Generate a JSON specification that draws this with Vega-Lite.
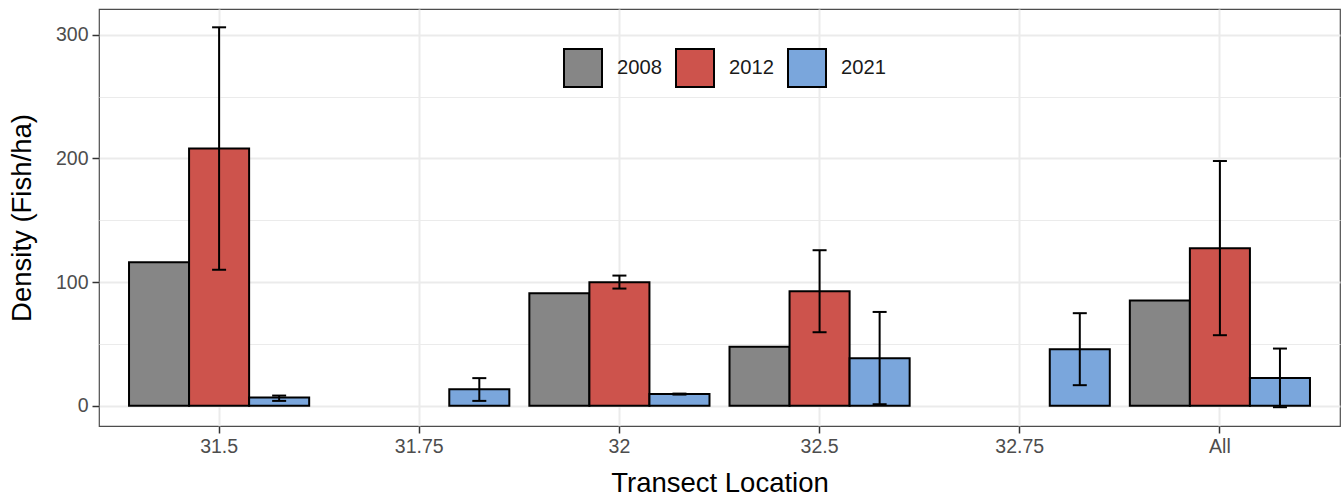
{
  "$schema": "https://vega.github.io/schema/vega-lite/v6.json",
  "autosize": "none",
  "width": 1241,
  "height": 417,
  "padding": {"left": 99, "top": 9, "right": 2, "bottom": 74},
  "background": "white",
  "config": {
    "font": "Liberation Sans",
    "view": {"stroke": "#4d4d4d", "strokeWidth": 1.2},
    "axis": {
      "domain": false,
      "grid": true,
      "gridColor": "#EBEBEB",
      "gridWidth": 2,
      "tickColor": "#333333",
      "tickWidth": 1.5,
      "tickSize": 7,
      "labelColor": "#4D4D4D",
      "labelFontSize": 19.5,
      "labelFont": "Liberation Sans",
      "titleFont": "Liberation Sans",
      "titleFontSize": 27.5,
      "titleFontWeight": "normal",
      "titleColor": "#000000"
    }
  },
  "data": {
    "values": [
      {"loc": "31.5", "year": "2008", "value": 116.0},
      {"loc": "31.5", "year": "2012", "value": 208.0, "lo": 110.0, "hi": 306.0},
      {"loc": "31.5", "year": "2021", "value": 6.7, "lo": 4.0, "hi": 8.3},
      {"loc": "31.75", "year": "2021", "value": 13.5, "lo": 4.0, "hi": 22.4},
      {"loc": "32", "year": "2008", "value": 91.0},
      {"loc": "32", "year": "2012", "value": 99.9, "lo": 94.8, "hi": 105.3},
      {"loc": "32", "year": "2021", "value": 9.5, "lo": 9.1, "hi": 9.9},
      {"loc": "32.5", "year": "2008", "value": 47.7},
      {"loc": "32.5", "year": "2012", "value": 92.6, "lo": 59.5, "hi": 125.8},
      {"loc": "32.5", "year": "2021", "value": 38.5, "lo": 1.3, "hi": 75.9},
      {"loc": "32.75", "year": "2021", "value": 45.8, "lo": 16.7, "hi": 74.9},
      {"loc": "All", "year": "2008", "value": 85.1},
      {"loc": "All", "year": "2012", "value": 127.4, "lo": 57.1, "hi": 197.9},
      {"loc": "All", "year": "2021", "value": 22.6, "lo": -1.1, "hi": 46.3}
    ]
  },
  "encoding": {
    "x": {
      "field": "loc",
      "type": "nominal",
      "sort": ["31.5", "31.75", "32", "32.5", "32.75", "All"],
      "scale": {"domain": ["31.5", "31.75", "32", "32.5", "32.75", "All"], "paddingInner": 0.1, "paddingOuter": 0.15},
      "axis": {"title": "Transect Location", "labelAngle": 0, "labelPadding": 4, "titlePadding": 14}
    },
    "xOffset": {
      "field": "year",
      "type": "nominal",
      "scale": {"domain": ["2008", "2012", "2021"], "paddingInner": 0, "paddingOuter": 0}
    }
  },
  "layer": [
    {
      "mark": {"type": "bar", "stroke": "black", "strokeWidth": 2},
      "encoding": {
        "y": {
          "field": "value",
          "type": "quantitative",
          "scale": {"domain": [-16.3, 320.8], "nice": false, "zero": false},
          "axis": {
            "title": "Density (Fish/ha)",
            "values": [0, 50, 100, 150, 200, 250, 300],
            "labelExpr": "datum.value % 100 === 0 ? datum.label : ''",
            "tickOpacity": {"condition": {"test": "datum.value % 100 !== 0", "value": 0}, "value": 1},
            "gridWidth": {"condition": {"test": "datum.value % 100 !== 0", "value": 1.2}, "value": 2},
            "labelPadding": 4,
            "titlePadding": 19
          }
        },
        "color": {
          "field": "year",
          "type": "nominal",
          "scale": {"domain": ["2008", "2012", "2021"], "range": ["#868686", "#CD534C", "#7AA6DC"]},
          "legend": {
            "title": null,
            "orient": "none",
            "direction": "horizontal",
            "legendX": 464,
            "legendY": 39,
            "padding": 0,
            "symbolType": "square",
            "symbolSize": 1444,
            "symbolStrokeColor": "black",
            "symbolStrokeWidth": 2,
            "symbolOpacity": 1,
            "labelFontSize": 20.2,
            "labelColor": "#1a1a1a",
            "labelOffset": 14,
            "columnPadding": 10
          }
        }
      }
    },
    {
      "transform": [{"filter": "datum.lo != null"}],
      "mark": {"type": "rule", "color": "black", "strokeWidth": 2},
      "encoding": {
        "y": {"field": "lo", "type": "quantitative"},
        "y2": {"field": "hi"}
      }
    },
    {
      "transform": [{"filter": "datum.lo != null"}],
      "mark": {"type": "tick", "color": "black", "thickness": 2, "size": 14, "opacity": 1},
      "encoding": {
        "y": {"field": "lo", "type": "quantitative"}
      }
    },
    {
      "transform": [{"filter": "datum.lo != null"}],
      "mark": {"type": "tick", "color": "black", "thickness": 2, "size": 14, "opacity": 1},
      "encoding": {
        "y": {"field": "hi", "type": "quantitative"}
      }
    }
  ]
}
